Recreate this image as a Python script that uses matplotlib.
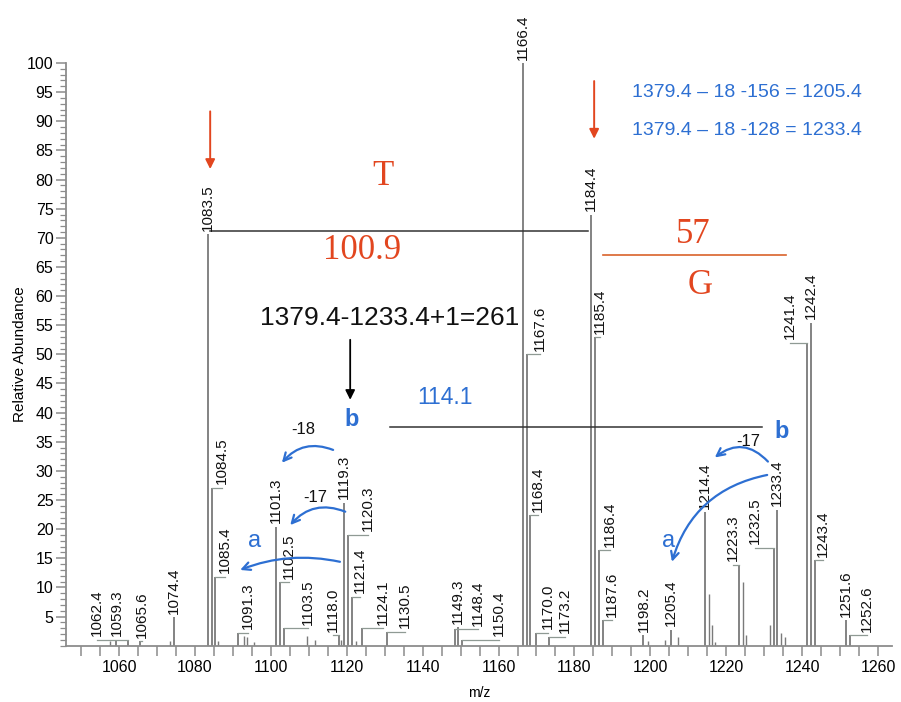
import matplotlib
matplotlib.use("Agg")
import matplotlib.pyplot as plt
from matplotlib.ticker import MultipleLocator

# labelled peaks: m/z and relative abundance
peak_mz = [1059.3, 1062.4, 1065.6, 1074.4, 1083.5, 1084.5, 1085.4, 1091.3,
           1101.3, 1102.5, 1103.5, 1118.0, 1119.3, 1120.3, 1121.4, 1124.1,
           1130.5, 1148.4, 1149.3, 1150.4, 1166.4, 1167.6, 1168.4, 1170.0,
           1173.2, 1184.4, 1185.4, 1186.4, 1187.6, 1198.2, 1205.4, 1214.4,
           1223.3, 1232.5, 1233.4, 1241.4, 1242.4, 1243.4, 1251.6, 1252.6]
peak_int = [1.0, 1.0, 0.8, 4.9, 70.6, 27.1, 11.8, 2.2,
            20.4, 10.9, 3.0, 1.8, 24.5, 19.0, 8.4, 3.0,
            2.4, 2.8, 3.2, 1.0, 100.0, 50.0, 22.4, 2.2,
            1.5, 74.0, 52.9, 16.4, 4.4, 1.8, 2.7, 22.9,
            13.9, 16.8, 23.3, 52.0, 55.4, 14.7, 4.4, 1.8]
peak_text = ["1059.3", "1062.4", "1065.6", "1074.4", "1083.5", "1084.5", "1085.4", "1091.3",
             "1101.3", "1102.5", "1103.5", "1118.0", "1119.3", "1120.3", "1121.4", "1124.1",
             "1130.5", "1148.4", "1149.3", "1150.4", "1166.4", "1167.6", "1168.4", "1170.0",
             "1173.2", "1184.4", "1185.4", "1186.4", "1187.6", "1198.2", "1205.4", "1214.4",
             "1223.3", "1232.5", "1233.4", "1241.4", "1242.4", "1243.4", "1251.6", "1252.6"]

# unlabelled minor peaks
minor_mz = [1057.6, 1073.4, 1086.1, 1092.9, 1093.6, 1095.6, 1109.5, 1111.7,
            1118.6, 1122.4, 1199.4, 1204.0, 1207.3, 1215.4, 1216.3, 1217.0,
            1224.4, 1225.3, 1231.6, 1234.4, 1235.5]
minor_int = [0.8, 0.8, 0.8, 1.6, 1.5, 0.6, 1.6, 1.0,
             1.0, 0.8, 0.8, 1.0, 1.5, 8.8, 3.5, 0.6,
             10.9, 1.8, 3.5, 2.2, 1.5]

# sideways shift of each label (m/z units), leader drawn when nonzero
label_dx = [0, -8.2, 0.4, 0, 0, 2.6, 2.5, 2.7,
            0, 2.3, 6.3, -1.6, 0, 5.3, 2.1, 5.5,
            4.9, 6.2, 0, 9.6, 0, 3.3, 2.0, 3.1,
            4.3, 0, 1.3, 2.9, 2.3, 0, 0, 0,
            -1.5, -4.9, 0, -4.6, 0, 2.1, 0, 4.5]

BLUE = "#2d6fd2"
RED = "#e2461f"
GREY = "#7a7a7a"
SANS = ["Liberation Sans", "DejaVu Sans"]
SERIF = ["Liberation Serif", "DejaVu Serif"]

plt.rcParams["font.family"] = SANS

fig = plt.figure(figsize=(9.01, 7.02), dpi=100)
ax = fig.add_axes([66 / 901, 56.3 / 702, 826 / 901, 582.7 / 702])

ax.vlines(minor_mz, 0, minor_int, color=GREY, lw=1.0)
ax.vlines(peak_mz, 0, peak_int, color=GREY, lw=1.3)

for mz, h, txt, dx in zip(peak_mz, peak_int, peak_text, label_dx):
    if dx:
        ax.plot([mz, mz + dx], [h, h], color="#8f9a94", lw=0.9, clip_on=False)
    ax.text(mz + dx, h + 0.6, txt, rotation=90, ha="center", va="bottom",
            fontsize=11, color="#111111", clip_on=False)

ax.set_xlim(1046, 1263.7)
ax.set_ylim(0, 100)
ax.xaxis.set_major_locator(MultipleLocator(20))
ax.xaxis.set_minor_locator(MultipleLocator(5))
ax.yaxis.set_major_locator(MultipleLocator(5))
ax.yaxis.set_minor_locator(MultipleLocator(1))
ax.set_yticks(range(5, 101, 5))
for s in ["top", "right"]:
    ax.spines[s].set_visible(False)
for s in ["left", "bottom"]:
    ax.spines[s].set_color("#8c8c8c")
    ax.spines[s].set_linewidth(1.3)
ax.tick_params(axis="x", which="both", direction="out", length=7, width=1.1,
               color="#8c8c8c", labelsize=11.5, pad=3)
ax.tick_params(axis="y", which="major", direction="out", length=7, width=1.1,
               color="#8c8c8c", labelsize=11.5, pad=2)
ax.tick_params(axis="y", which="minor", direction="out", length=4, width=0.9,
               color="#8c8c8c")
ax.set_xlabel("m/z", fontsize=10, labelpad=8)
ax.set_ylabel("Relative Abundance", fontsize=11, labelpad=0)

# red arrows over the two marker peaks
for x, y0, y1 in [(1084.0, 91.7, 81.8), (1185.2, 96.9, 87.0)]:
    ax.annotate("", xy=(x, y1), xytext=(x, y0),
                arrowprops=dict(arrowstyle="-|>", color=RED, lw=1.4,
                                mutation_scale=14, shrinkA=0, shrinkB=0),
                annotation_clip=False)

ax.text(1129.6, 80.5, "T", color=RED, fontsize=25, family=SERIF, ha="center", va="center")
ax.plot([1084.0, 1183.6], [71.1, 71.1], color="#333333", lw=1.1)
ax.text(1124.0, 67.8, "100.9", color=RED, fontsize=25, family=SERIF, ha="center", va="center")
ax.text(1211.3, 70.6, "57", color=RED, fontsize=25, family=SERIF, ha="center", va="center")
ax.plot([1187.5, 1235.8], [67.0, 67.0], color="#d9622b", lw=1.2)
ax.text(1213.1, 61.8, "G", color=RED, fontsize=25, family=SERIF, ha="center", va="center")

ax.text(1195.2, 95.0, "1379.4 \u2013 18 -156 = 1205.4", color=BLUE, fontsize=14,
        ha="left", va="center")
ax.text(1195.2, 88.4, "1379.4 \u2013 18 -128 = 1233.4", color=BLUE, fontsize=14,
        ha="left", va="center")

ax.text(1131.4, 56.3, "1379.4-1233.4+1=261", color="#111111", fontsize=19,
        ha="center", va="center")
ax.annotate("", xy=(1120.9, 42.2), xytext=(1120.9, 52.5),
            arrowprops=dict(arrowstyle="-|>", color="black", lw=1.3,
                            mutation_scale=14, shrinkA=0, shrinkB=0))

ax.text(1121.4, 38.8, "b", color=BLUE, fontsize=17, fontweight="bold",
        ha="center", va="center")
ax.text(1145.9, 42.6, "114.1", color=BLUE, fontsize=16.5, ha="center", va="center")
ax.plot([1131.4, 1229.4], [37.6, 37.6], color="#333333", lw=1.1)
ax.text(1234.7, 36.7, "b", color=BLUE, fontsize=17, fontweight="bold",
        ha="center", va="center")

ax.text(1108.5, 37.1, "-18", color="#111111", fontsize=12, ha="center", va="center")
ax.text(1111.6, 25.5, "-17", color="#111111", fontsize=12, ha="center", va="center")
ax.text(1225.7, 35.0, "-17", color="#111111", fontsize=12, ha="center", va="center")
ax.text(1095.8, 18.0, "a", color=BLUE, fontsize=17, ha="center", va="center")
ax.text(1204.7, 18.0, "a", color=BLUE, fontsize=17, ha="center", va="center")

# curved loss arrows (start -> tip)
loss_arrows = [
    ((1116.4, 33.6), (1102.9, 31.4), 0.35),
    ((1119.6, 23.0), (1105.1, 20.7), 0.35),
    ((1118.2, 14.4), (1091.9, 13.0), 0.15),
    ((1231.0, 31.6), (1217.0, 32.3), 0.45),
    ((1230.8, 29.3), (1205.7, 14.4), 0.3),
]
for start, tip, rad in loss_arrows:
    ax.annotate("", xy=tip, xytext=start,
                arrowprops=dict(arrowstyle="->", color=BLUE, lw=1.6,
                                mutation_scale=14, shrinkA=0, shrinkB=0,
                                connectionstyle=f"arc3,rad={rad}"))

fig.savefig("out.png", dpi=100)
